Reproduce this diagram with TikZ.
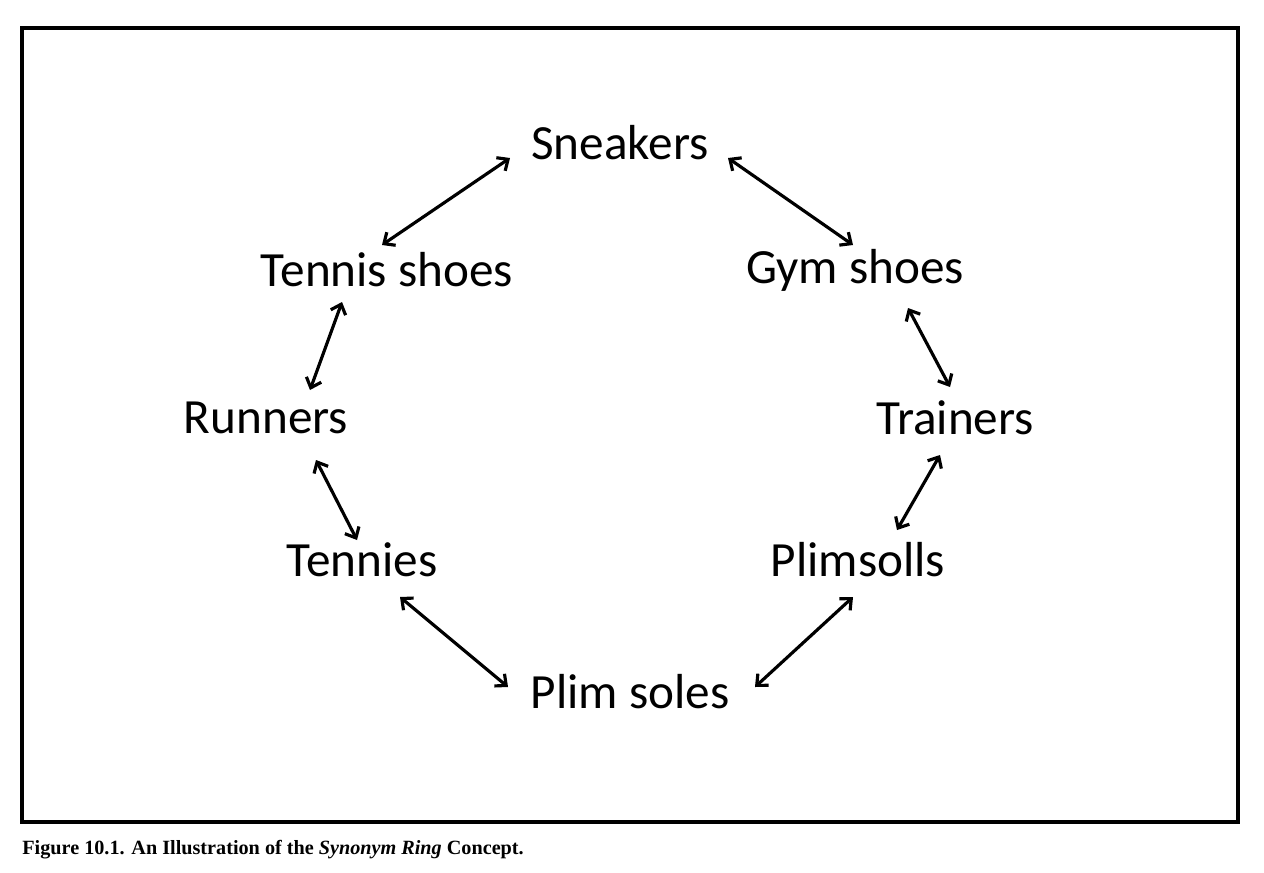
\documentclass[tikz,border=0pt]{standalone}
\usepackage{fontspec}
\setmainfont{Carlito}
\newfontfamily\capfont{Liberation Serif}
\usetikzlibrary{arrows.meta}
\tikzset{
  word/.style={inner sep=0pt, font=\fontsize{28}{30}\selectfont},
  link/.style={line width=1.8pt, {Straight Barb[length=5pt,width=9pt]}-{Straight Barb[length=5pt,width=9pt]}}
}
\begin{document}
\begin{tikzpicture}[x=0.02cm,y=-0.02cm]
            \useasboundingbox (0,0) rectangle (1264,872);
            \draw[line width=2.2pt] (22,28) rectangle (1238,822);
            % words of the ring
            \node[word] (sn) at (620,143) {Sneakers};
            \node[word] (gs) at (855,270) {Gym shoes};
            \node[word] (tr) at (955,418) {Trainers};
            \node[word] (pl) at (858,560) {Plimsolls};
            \node[word] (ps) at (630,692) {Plim soles};
            \node[word] (te) at (362,560) {Tennies};
            \node[word] (ru) at (266,418) {Runners};
            \node[word] (ts) at (387,270) {Tennis shoes};
            % links
            \draw[link] ([shift={(-110,15)}]sn.center) -- ([shift={(-5,-25)}]ts.center);
            \draw[link] ([shift={(108,15)}]sn.center) -- ([shift={(-2,-25)}]gs.center);
            \draw[link] ([shift={(-45,32)}]ts.center) -- ([shift={(44,-28)}]ru.center);
            \draw[link] ([shift={(53,38)}]gs.center) -- ([shift={(-5,-31)}]tr.center);
            \draw[link] ([shift={(50,42)}]ru.center) -- ([shift={(-5,-20)}]te.center);
            \draw[link] ([shift={(-15,37)}]tr.center) -- ([shift={(39,-30)}]pl.center);
            \draw[link] ([shift={(38,37)}]te.center) -- ([shift={(-122,-5)}]ps.center);
            \draw[link] ([shift={(-5,37)}]pl.center) -- ([shift={(125,-5)}]ps.center);
            \node[anchor=west, inner sep=0pt, font=\capfont\bfseries\fontsize{11.5}{13}\selectfont] (cap) at (22,850)
              {Figure 10.1. An Illustration of the \textit{Synonym Ring} Concept.};
        \end{tikzpicture}
\end{document}
